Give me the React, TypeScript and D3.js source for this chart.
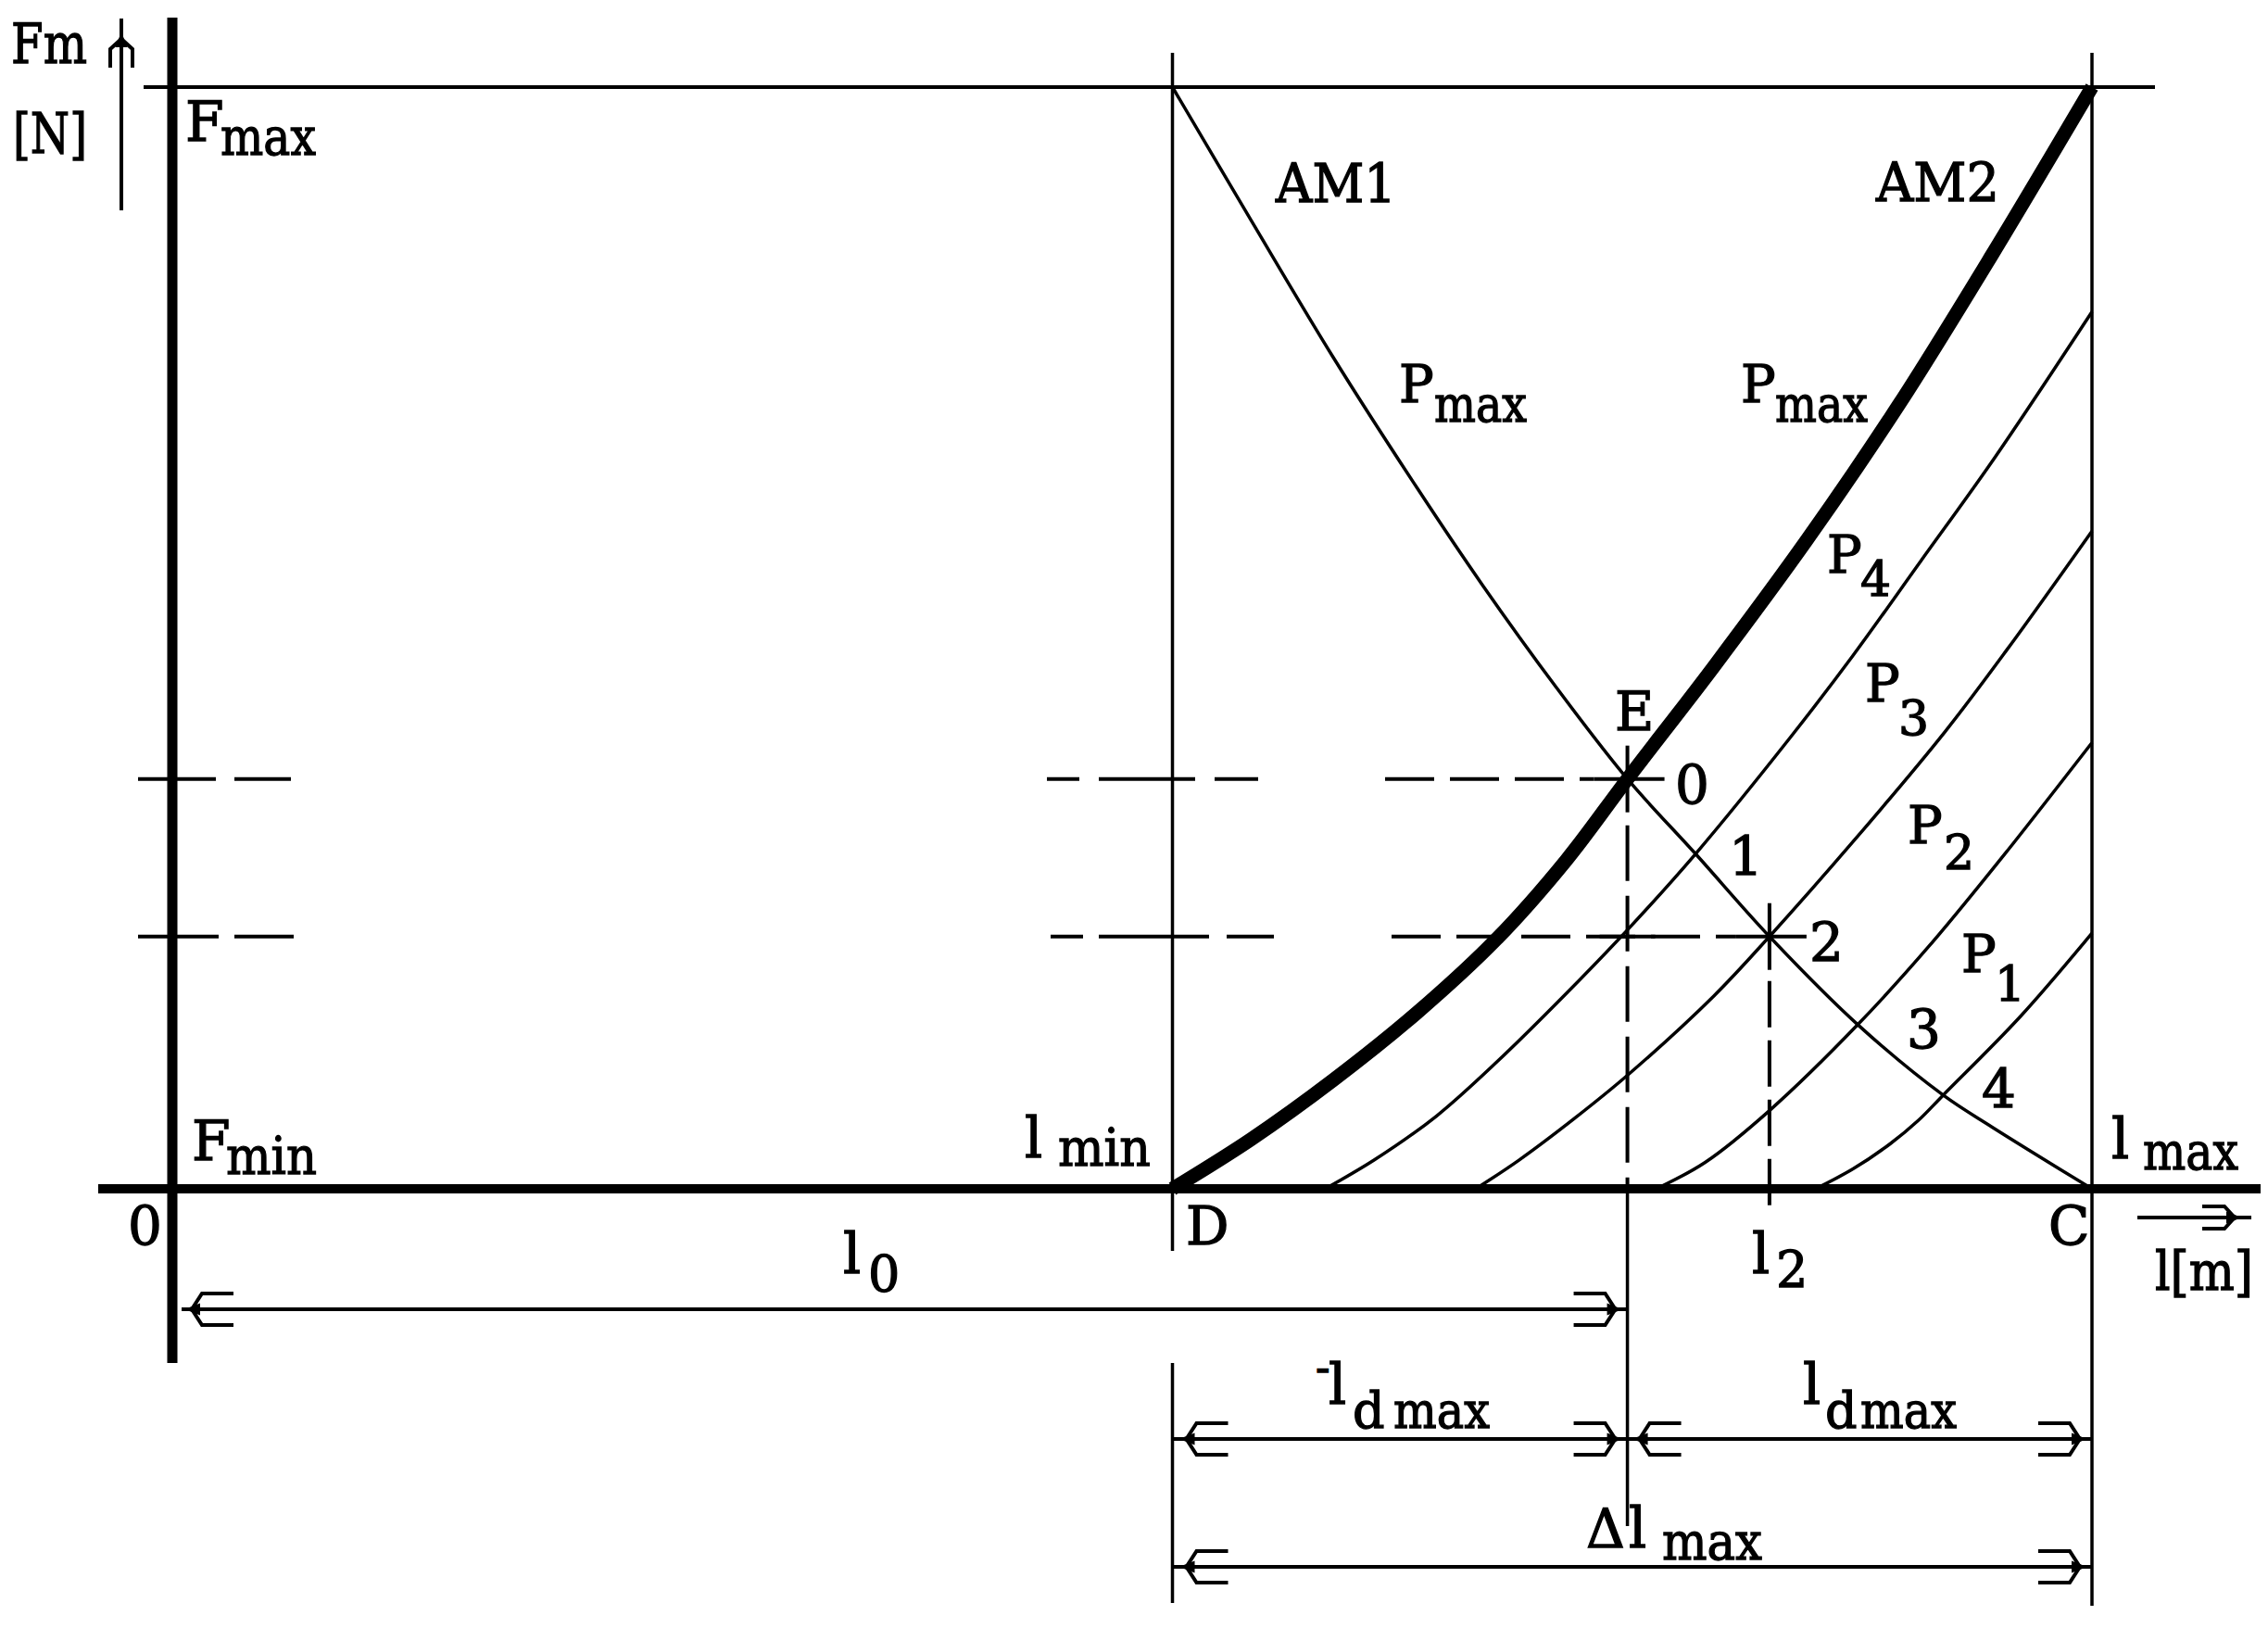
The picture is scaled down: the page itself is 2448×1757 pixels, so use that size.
import React from 'react';
import * as d3 from 'd3';

const W = 2448;
const H = 1757;

// ---- data (length l on x, force F on y, arbitrary units)
const L_MIN = 10.42; // D
const L_MAX = 20; // C
const L_E = 15.16; // E  (l0)
const L_2 = 16.64; // l2
const F_MAX = 10;
const F_0 = 3.72;
const F_2 = 2.29;

// AM1 at p_max (falling branch)
const am1: [number, number][] = [
  [10.42, 10.0], [11.24, 8.79], [12.1, 7.54], [12.97, 6.36], [13.65, 5.48],
  [14.42, 4.55], [15.16, 3.72], [15.87, 3.04], [16.64, 2.29], [17.56, 1.49],
  [18.45, 0.85], [18.96, 0.56], [20.0, 0],
];
// AM2 at p_max (thick rising branch)
const am2: [number, number][] = [
  [10.42, 0], [11.24, 0.45], [12.1, 0.99], [12.97, 1.6], [13.8, 2.27],
  [14.52, 2.98], [15.16, 3.72], [16.06, 4.74], [17.03, 5.89], [17.99, 7.12],
  [18.96, 8.48], [20.0, 10.0],
];
const p4: [number, number][] = [
  [12.01, 0], [12.52, 0.26], [13.17, 0.66], [13.81, 1.16], [14.52, 1.77],
  [15.16, 2.35], [15.87, 3.04], [16.86, 4.1], [17.51, 4.84], [18.21, 5.69],
  [18.99, 6.64], [20.0, 7.96],
];
const p3: [number, number][] = [
  [13.58, 0], [14.03, 0.26], [14.61, 0.64], [15.16, 1.03], [16.06, 1.75],
  [16.64, 2.29], [17.51, 3.15], [18.47, 4.15], [19.12, 4.9], [20.0, 5.97],
];
const p2: [number, number][] = [
  [15.46, 0], [15.97, 0.24], [16.64, 0.71], [17.56, 1.49], [18.31, 2.21],
  [19.12, 3.07], [20.0, 4.05],
];
const p1: [number, number][] = [
  [17.12, 0], [17.51, 0.18], [17.9, 0.41], [18.19, 0.62], [18.45, 0.85],
  [19.25, 1.56], [20.0, 2.32],
];

const FONT = "'DejaVu Serif', 'Liberation Serif', serif";

type Lbl = { t: string; x: number; y: number; s: number; len?: number };

const labels: Lbl[] = [
  { t: 'Fm', x: 12, y: 68, s: 60, len: 82 },
  { t: '[N]', x: 14, y: 165, s: 60, len: 80 },
  { t: 'F', x: 200, y: 152, s: 60 },
  { t: 'max', x: 238, y: 167, s: 56, len: 103 },
  { t: 'F', x: 207, y: 1252, s: 60 },
  { t: 'min', x: 244, y: 1267, s: 56, len: 98 },
  { t: 'AM1', x: 1377, y: 218, s: 58, len: 130 },
  { t: 'AM2', x: 2025, y: 217, s: 58, len: 133 },
  { t: 'P', x: 1510, y: 434, s: 56 },
  { t: 'max', x: 1548, y: 455, s: 54, len: 100 },
  { t: 'P', x: 1879, y: 434, s: 56 },
  { t: 'max', x: 1916, y: 455, s: 54, len: 100 },
  { t: 'P', x: 1972, y: 618, s: 56 },
  { t: '4', x: 2008, y: 643, s: 52 },
  { t: 'P', x: 2013, y: 757, s: 56 },
  { t: '3', x: 2049, y: 793, s: 52 },
  { t: 'P', x: 2059, y: 910, s: 56 },
  { t: '2', x: 2098, y: 938, s: 52 },
  { t: 'P', x: 2117, y: 1049, s: 56 },
  { t: '1', x: 2153, y: 1080, s: 52 },
  { t: 'E', x: 1743, y: 788, s: 58 },
  { t: '0', x: 1808, y: 867, s: 58 },
  { t: '1', x: 1866, y: 944, s: 58 },
  { t: '2', x: 1953, y: 1037, s: 58 },
  { t: '3', x: 2058, y: 1131, s: 58 },
  { t: '4', x: 2139, y: 1195, s: 58 },
  { t: 'l', x: 1106, y: 1249, s: 60 },
  { t: 'min', x: 1142, y: 1258, s: 56, len: 100 },
  { t: 'l', x: 2279, y: 1250, s: 60 },
  { t: 'max', x: 2313, y: 1262, s: 56, len: 103 },
  { t: '0', x: 138, y: 1343, s: 58 },
  { t: 'D', x: 1280, y: 1343, s: 58 },
  { t: 'C', x: 2211, y: 1343, s: 58 },
  { t: 'l', x: 910, y: 1374, s: 60 },
  { t: '0', x: 937, y: 1394, s: 54 },
  { t: 'l', x: 1891, y: 1374, s: 60 },
  { t: '2', x: 1917, y: 1389, s: 54 },
  { t: 'l[m]', x: 2326, y: 1392, s: 58, len: 106 },
  { t: '-', x: 1420, y: 1492, s: 46 },
  { t: 'l', x: 1434, y: 1515, s: 60 },
  { t: 'd', x: 1460, y: 1541, s: 54 },
  { t: 'max', x: 1504, y: 1541, s: 54, len: 104 },
  { t: 'l', x: 1946, y: 1515, s: 60 },
  { t: 'd', x: 1970, y: 1541, s: 54 },
  { t: 'max', x: 2008, y: 1541, s: 54, len: 104 },
  { t: 'Δ', x: 1712, y: 1670, s: 58 },
  { t: 'l', x: 1758, y: 1670, s: 60 },
  { t: 'max', x: 1794, y: 1683, s: 56, len: 108 },
];

function arrowHead(tx: number, ty: number, dx: number, dy: number, hw: number, len: number) {
  const px = -dy;
  const py = dx;
  const p = (a: number, b: number) => `${tx - dx * a + px * b},${ty - dy * a + py * b}`;
  const arms = `M${p(5, 0)} L${p(16, hw)} L${p(len, hw)} M${p(5, 0)} L${p(16, -hw)} L${p(len, -hw)}`;
  const blob = `M${p(0, 0)} L${p(13, 5)} L${p(13, -5)} Z`;
  return (
    <g>
      <path d={arms} fill="none" stroke="#000" strokeWidth={4} />
      <path d={blob} fill="#000" stroke="#000" strokeWidth={2} />
    </g>
  );
}

export default function App() {
  const x = d3.scaleLinear().domain([0, 20]).range([186, 2258]);
  const y = d3.scaleLinear().domain([0, 10]).range([1283, 94]);
  const line = d3
    .line<[number, number]>()
    .x((d) => x(d[0]))
    .y((d) => y(d[1]))
    .curve(d3.curveCatmullRom.alpha(0.5));

  const xO = x(0);
  const xD = x(L_MIN);
  const xC = x(L_MAX);
  const xE = x(L_E);
  const x2 = x(L_2);
  const y0 = y(0);
  const yMax = y(F_MAX);
  const yF0 = y(F_0);
  const yF2 = y(F_2);

  const thin = 3.5;
  const dash = '53 17';

  const hSeg = (x1: number, x2_: number, yy: number, k: string, da?: string) => (
    <line key={k} x1={x1} x2={x2_} y1={yy} y2={yy} stroke="#000" strokeWidth={4} strokeDasharray={da} />
  );

  return (
    <svg
      width={W}
      height={H}
      viewBox={`0 0 ${W} ${H}`}
      style={{ position: 'absolute', left: 0, top: 0, background: '#fff' }}
    >
      <rect x={0} y={0} width={W} height={H} fill="#fff" />

      {/* top Fmax line */}
      <line x1={xO - 31} x2={2326} y1={yMax} y2={yMax} stroke="#000" strokeWidth={4} />

      {/* vertical lines D and C */}
      <line x1={xD} x2={xD} y1={57} y2={1350} stroke="#000" strokeWidth={thin} />
      <line x1={xD} x2={xD} y1={1471} y2={1730} stroke="#000" strokeWidth={thin} />
      <line x1={xC} x2={xC} y1={57} y2={1733} stroke="#000" strokeWidth={thin} />

      {/* E vertical: tick, dashed, solid below axis */}
      <line x1={xE} x2={xE} y1={yF0 - 36} y2={yF0 + 36} stroke="#000" strokeWidth={4} />
      <line x1={xE} x2={xE} y1={yF0 + 36} y2={y0} stroke="#000" strokeWidth={4} strokeDasharray="60 16" strokeDashoffset={-14} />
      <line x1={xE} x2={xE} y1={y0} y2={1647} stroke="#000" strokeWidth={thin} />

      {/* l2 vertical */}
      <line x1={x2} x2={x2} y1={yF2 - 36} y2={yF2 + 36} stroke="#000" strokeWidth={4} />
      <line x1={x2} x2={x2} y1={yF2 + 36} y2={1308} stroke="#000" strokeWidth={4} strokeDasharray="50 14" strokeDashoffset={-12} />

      {/* F0 dashed */}
      {hSeg(xO - 37, xO + 47, yF0, 'a1')}
      {hSeg(xO + 67, xO + 128, yF0, 'a2')}
      {hSeg(1130, 1165, yF0, 'a3')}
      {hSeg(1186, 1290, yF0, 'a4')}
      {hSeg(1311, 1358, yF0, 'a5')}
      {hSeg(1495, xE - 36, yF0, 'a6', dash)}
      {hSeg(xE - 36, xE + 40, yF0, 'a7')}

      {/* F2 dashed */}
      {hSeg(xO - 37, xO + 50, yF2, 'b1')}
      {hSeg(xO + 67, xO + 131, yF2, 'b2')}
      {hSeg(1134, 1169, yF2, 'b3')}
      {hSeg(1186, 1305, yF2, 'b4')}
      {hSeg(1324, 1375, yF2, 'b5')}
      {hSeg(1502, x2 - 36, yF2, 'b6', dash)}
      {hSeg(xE - 30, xE + 30, yF2, 'b7')}
      {hSeg(x2 - 36, x2 + 40, yF2, 'b8')}

      {/* curves */}
      <path d={line(am1) || ''} fill="none" stroke="#000" strokeWidth={thin} />
      <path d={line(p4) || ''} fill="none" stroke="#000" strokeWidth={thin} />
      <path d={line(p3) || ''} fill="none" stroke="#000" strokeWidth={thin} />
      <path d={line(p2) || ''} fill="none" stroke="#000" strokeWidth={thin} />
      <path d={line(p1) || ''} fill="none" stroke="#000" strokeWidth={thin} />
      <path d={line(am2) || ''} fill="none" stroke="#000" strokeWidth={15} strokeLinecap="butt" />

      {/* main axes */}
      <line x1={106} x2={2440} y1={y0} y2={y0} stroke="#000" strokeWidth={10} />
      <line x1={xO} x2={xO} y1={19} y2={1471} stroke="#000" strokeWidth={11} />

      {/* Fm axis arrow */}
      <line x1={131} x2={131} y1={227} y2={20} stroke="#000" strokeWidth={4} />
      {arrowHead(131, 37, 0, -1, 12, 36)}

      {/* l[m] arrow */}
      <line x1={2307} x2={2430} y1={1314} y2={1314} stroke="#000" strokeWidth={4} />
      {arrowHead(2417, 1314, 1, 0, 12, 40)}

      {/* dimension lines */}
      <line x1={xO + 10} x2={xE} y1={1413} y2={1413} stroke="#000" strokeWidth={4} />
      {arrowHead(xO + 16, 1413, -1, 0, 17, 50)}
      {arrowHead(xE - 8, 1413, 1, 0, 17, 50)}

      <line x1={xD} x2={xC} y1={1553} y2={1553} stroke="#000" strokeWidth={4} />
      {arrowHead(xD + 10, 1553, -1, 0, 17, 50)}
      {arrowHead(xE - 8, 1553, 1, 0, 17, 50)}
      {arrowHead(xE + 8, 1553, -1, 0, 17, 50)}
      {arrowHead(xC - 8, 1553, 1, 0, 17, 50)}

      <line x1={xD} x2={xC} y1={1691} y2={1691} stroke="#000" strokeWidth={4} />
      {arrowHead(xD + 10, 1691, -1, 0, 17, 50)}
      {arrowHead(xC - 8, 1691, 1, 0, 17, 50)}

      {/* labels */}
      {labels.map((l, i) => (
        <text
          key={i}
          x={l.x}
          y={l.y}
          fontFamily={FONT}
          fontSize={l.s}
          fill="#000"
          stroke="#000"
          strokeWidth={1.3}
          textLength={l.len}
          lengthAdjust={l.len ? 'spacingAndGlyphs' : undefined}
        >
          {l.t}
        </text>
      ))}
    </svg>
  );
}
